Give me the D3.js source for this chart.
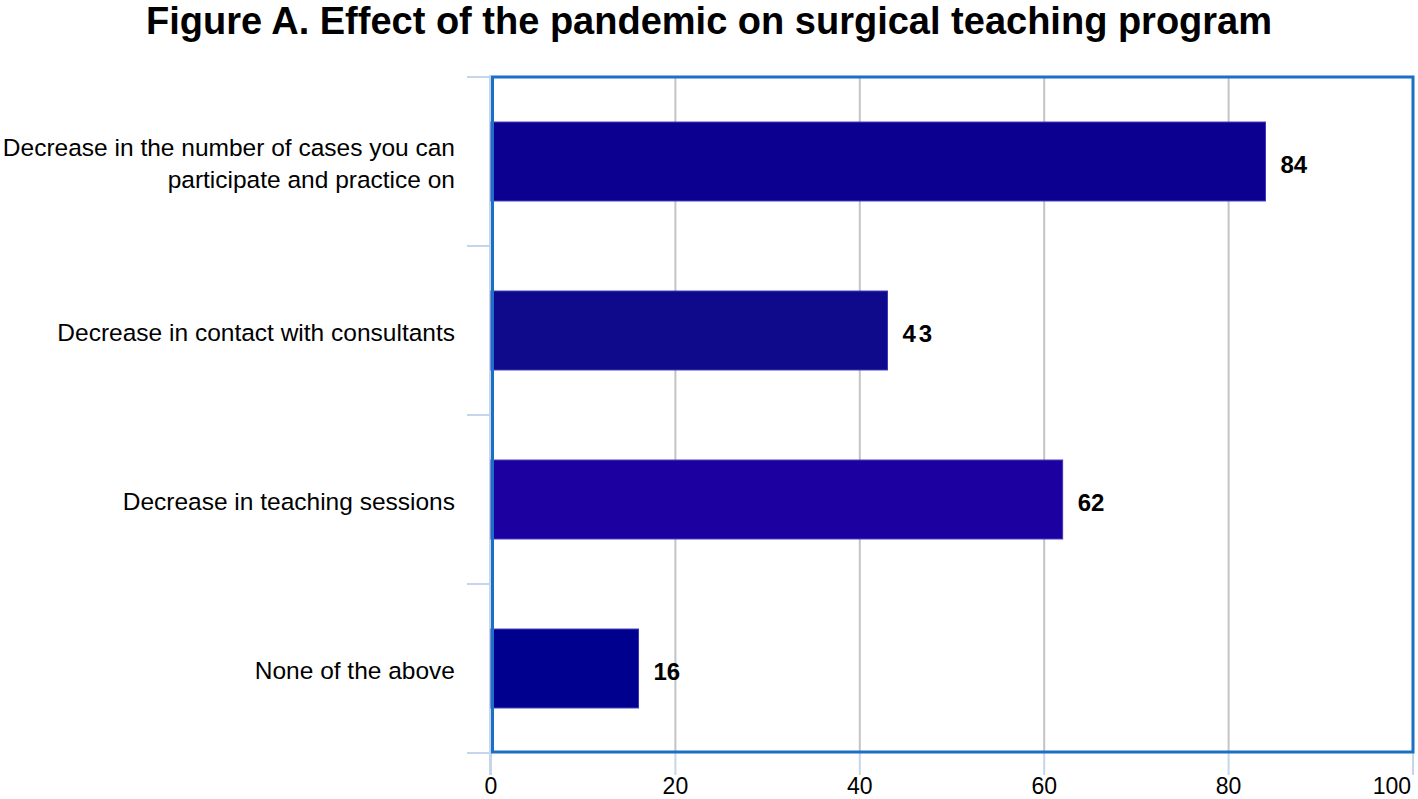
<!DOCTYPE html>
<html>
<head>
<meta charset="utf-8">
<script src="https://cdn.jsdelivr.net/npm/d3@7"></script>
<style>
  body { margin: 0; background: #fff; }
  svg text { font-family: "Liberation Sans", Arial, sans-serif; }
</style>
</head>
<body>
<svg id="chart" width="1418" height="799"></svg>
<script>
// chart data
const categories = [
    ["Decrease in the number of cases you can", "participate and practice on"],
    ["Decrease in contact with consultants"],
    ["Decrease in teaching sessions"],
    ["None of the above"]
];
const values = [84, 43, 62, 16];
const barColors = ["#0c0090", "#0f098b", "#1c00a0", "#00008e"];
const xTicks = [0, 20, 40, 60, 80, 100];
const titleText = "Figure A. Effect of the pandemic on surgical teaching program";

const W = 1418, H = 799;
const plot = { left: 491, right: 1413, top: 77, bottom: 753 };

const svg = d3.select("#chart");

const x = d3.scaleLinear().domain([0, 100]).range([plot.left, plot.right]);
const y = d3.scaleBand()
    .domain(d3.range(values.length))
    .range([plot.top, plot.bottom])
    .paddingInner(0.533)
    .paddingOuter(0.2665);

// title
svg.append("text")
    .attr("x", 709)
    .attr("y", 34)
    .attr("text-anchor", "middle")
    .attr("font-size", 38)
    .attr("font-weight", "bold")
    .attr("fill", "#000")
    .text(titleText);

// gridlines
svg.append("g")
    .selectAll("line")
    .data(xTicks.filter(d => d > 0 && d < 100))
    .join("line")
    .attr("x1", d => x(d)).attr("x2", d => x(d))
    .attr("y1", plot.top).attr("y2", plot.bottom)
    .attr("stroke", "#c4c4c4")
    .attr("stroke-width", 2);

// light axis lines and ticks
const axisColor = "#c6d6ea";
svg.append("line")
    .attr("x1", plot.left - 1).attr("x2", plot.left - 1)
    .attr("y1", plot.top - 2).attr("y2", plot.bottom + 22)
    .attr("stroke", axisColor).attr("stroke-width", 2);

const yTickPos = d3.range(values.length + 1).map(i => plot.top + i * y.step());
svg.append("g")
    .selectAll("line")
    .data(yTickPos)
    .join("line")
    .attr("x1", plot.left - 24).attr("x2", plot.left)
    .attr("y1", d => d).attr("y2", d => d)
    .attr("stroke", axisColor).attr("stroke-width", 2);

svg.append("g")
    .selectAll("line")
    .data(xTicks)
    .join("line")
    .attr("x1", d => x(d)).attr("x2", d => x(d))
    .attr("y1", plot.bottom).attr("y2", plot.bottom + 22)
    .attr("stroke", axisColor).attr("stroke-width", 2);

// x tick labels
svg.append("g")
    .selectAll("text")
    .data(xTicks)
    .join("text")
    .attr("x", d => d === 100 ? x(d) - 2 : x(d))
    .attr("y", 794)
    .attr("text-anchor", d => d === 100 ? "end" : "middle")
    .attr("font-size", 23)
    .attr("fill", "#000")
    .text(d => d);

// bars
svg.append("g")
    .selectAll("rect")
    .data(values)
    .join("rect")
    .attr("x", x(0))
    .attr("y", (d, i) => y(i))
    .attr("width", d => x(d) - x(0))
    .attr("height", y.bandwidth())
    .attr("fill", (d, i) => barColors[i])
    .attr("stroke", "#3a36b8")
    .attr("stroke-width", 1);

// value labels
svg.append("g")
    .selectAll("text")
    .data(values)
    .join("text")
    .attr("x", d => x(d) + 15)
    .attr("y", (d, i) => y(i) + y.bandwidth() / 2 + 11)
    .attr("font-size", 24)
    .attr("font-weight", "bold")
    .attr("letter-spacing", d => d === 43 ? 3 : 0)
    .attr("fill", "#000")
    .text(d => d);

// category labels
const cat = svg.append("g")
    .selectAll("text")
    .data(categories)
    .join("text")
    .attr("text-anchor", "end")
    .attr("font-size", 24.5)
    .attr("fill", "#000")
    .attr("y", (d, i) => y(i) + y.bandwidth() / 2 + 10 - (d.length - 1) * 16);

cat.selectAll("tspan")
    .data(d => d)
    .join("tspan")
    .attr("x", 455)
    .attr("dy", (d, i) => i === 0 ? 0 : 32)
    .text(d => d);

// plot border
svg.append("rect")
    .attr("x", plot.left + 1.5)
    .attr("y", plot.top)
    .attr("width", plot.right - plot.left - 1.5)
    .attr("height", plot.bottom - plot.top - 1)
    .attr("fill", "none")
    .attr("stroke", "#1a6fc6")
    .attr("stroke-width", 3);
</script>
</body>
</html>
